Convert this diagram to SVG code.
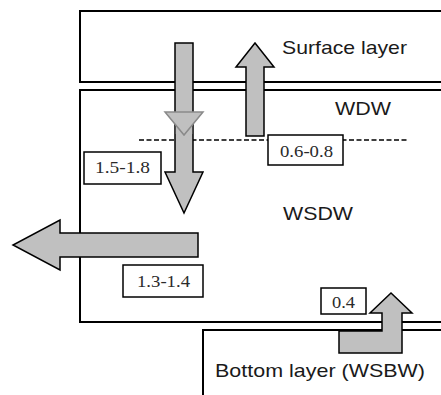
<svg xmlns="http://www.w3.org/2000/svg" width="441" height="395" viewBox="0 0 441 395">
<style>
.layer{fill:#fff;stroke:#000;stroke-width:2}
.arrow{fill:#c0c0c0;stroke:#000;stroke-width:1.5;stroke-linejoin:miter}
.lbl{font-family:"Liberation Sans",Arial,sans-serif;font-size:19px;fill:#1a1a1a}
.numbox{fill:#fff;stroke:#000;stroke-width:1.5}
.num{font-family:"Liberation Serif","Times New Roman",serif;font-size:17px;fill:#2a2a2a;text-anchor:middle}
.dash{stroke:#000;stroke-width:1.5;stroke-dasharray:5 2.5;fill:none}
</style>
<rect width="441" height="395" fill="#fff"/>
<g id="surface-layer">
<rect class="layer" x="80" y="11" width="380" height="71"/>
<text class="lbl" x="282" y="54" textLength="125" lengthAdjust="spacingAndGlyphs">Surface layer</text>
</g>
<g id="wdw-wsdw">
<rect class="layer" x="80" y="90" width="380" height="232"/>
<text class="lbl" x="335" y="115" textLength="56" lengthAdjust="spacingAndGlyphs">WDW</text>
<text class="lbl" x="283" y="220" textLength="70" lengthAdjust="spacingAndGlyphs">WSDW</text>
</g>
<g id="bottom-layer">
<rect class="layer" x="203" y="330" width="260" height="80"/>
<text class="lbl" x="215" y="377" textLength="210" lengthAdjust="spacingAndGlyphs">Bottom layer (WSBW)</text>
</g>
<g id="boundary">
<line class="dash" x1="139" y1="140" x2="407" y2="140"/>
</g>
<g id="connectors">
<polygon class="arrow" points="175,43 193,43 193,172 203,172 184,213 165,172 175,172"/>
<rect x="175.8" y="112" width="16.4" height="22" fill="#c0c0c0"/>
<polygon points="165,112 203,112 184,135" fill="#c0c0c0" stroke="#8a8a8a" stroke-width="1.5"/>
<polygon class="arrow" points="246,136 264,136 264,67 274,67 255,43 236,67 246,67"/>
<polygon class="arrow" points="198,233 198,257 60,257 60,270 13,245 60,220 60,233"/>
<polygon class="arrow" points="339,331 382,331 382,313 370,313 391,293 412,313 402,313 402,353 339,353"/>
</g>
<g id="label-1-5">
<rect class="numbox" x="84" y="152" width="77" height="32"/>
<text class="num" x="122.5" y="173" textLength="55" lengthAdjust="spacingAndGlyphs">1.5-1.8</text>
</g>
<g id="label-0-6">
<rect class="numbox" x="268" y="135" width="75" height="30"/>
<text class="num" x="306.5" y="157" textLength="53" lengthAdjust="spacingAndGlyphs">0.6-0.8</text>
</g>
<g id="label-1-3">
<rect class="numbox" x="123" y="265" width="80" height="32"/>
<text class="num" x="163.5" y="287" textLength="53" lengthAdjust="spacingAndGlyphs">1.3-1.4</text>
</g>
<g id="label-0-4">
<rect class="numbox" x="321" y="288" width="45" height="26"/>
<text class="num" x="343.5" y="308" textLength="23" lengthAdjust="spacingAndGlyphs">0.4</text>
</g>
</svg>
